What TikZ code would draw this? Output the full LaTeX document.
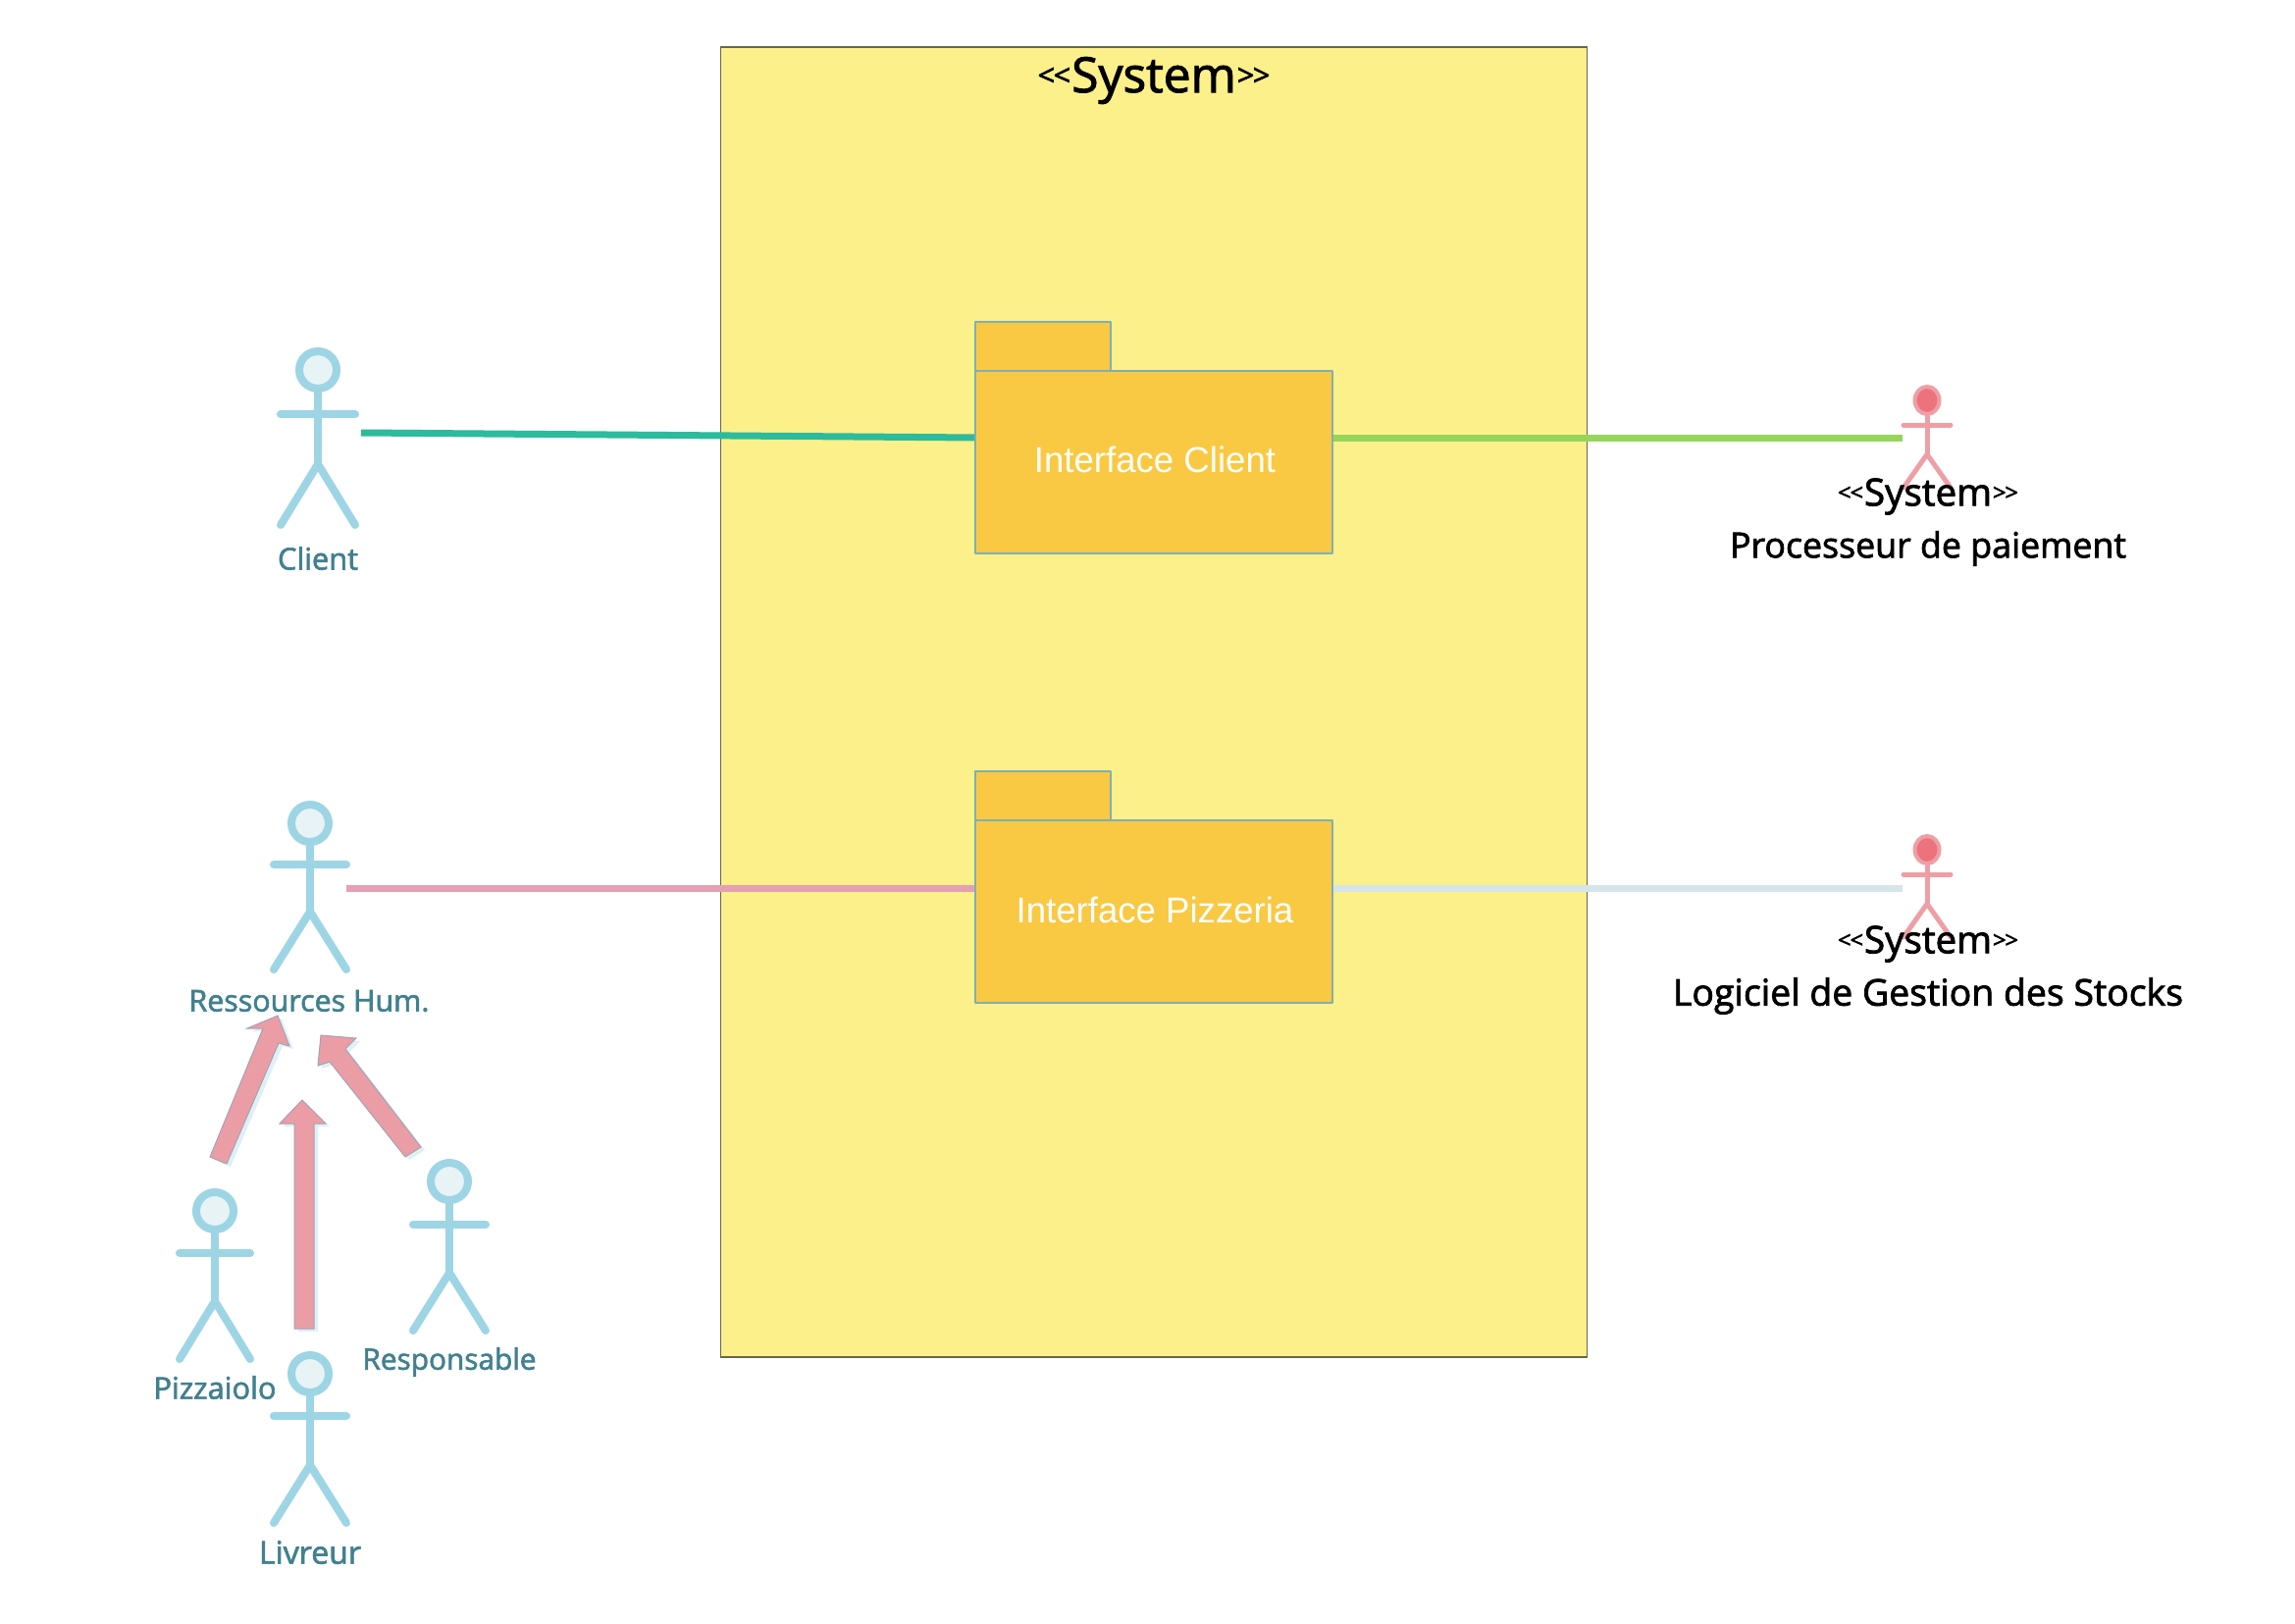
\documentclass[tikz,border=0pt]{standalone}
\usepackage{fontspec}
\usepackage{graphicx}
\setmainfont{Open Sans}[FakeBold=2]
\newfontfamily\arialfont{Liberation Sans}
\usetikzlibrary{shapes.geometric}
\definecolor{sysfill}{HTML}{FCF08A}
\definecolor{sysdraw}{HTML}{66664F}
\definecolor{foldfill}{HTML}{F9C943}
\definecolor{folddraw}{HTML}{7FB0B0}
\definecolor{actblue}{HTML}{9DD5E5}
\definecolor{headblue}{HTML}{E8F3F6}
\definecolor{actred}{HTML}{EE9FA5}
\definecolor{headred}{HTML}{EC727E}
\definecolor{labelteal}{HTML}{41808F}
\definecolor{lineteal}{HTML}{2CBB9C}
\definecolor{linegreen}{HTML}{97D45B}
\definecolor{linepink}{HTML}{E6A0B4}
\definecolor{linepale}{HTML}{D5E5EA}
\definecolor{arrfill}{HTML}{EA9DA5}
\definecolor{arrdraw}{HTML}{A9A0B4}
\definecolor{arrshadow}{HTML}{DDF0F6}
\tikzset{
  sysbox/.style={draw=sysdraw,fill=sysfill,line width=1.5pt},
  foldshape/.style={draw=folddraw,fill=foldfill,line width=1.8pt,line join=round},
  foldtext/.style={text=white,inner sep=0pt,font=\arialfont\fontsize{36.6}{40}\selectfont},
  linkline/.style={line width=7pt},
  bluelimb/.style={draw=actblue,line width=8pt,line cap=round},
  bluehead/.style={ellipse,draw=actblue,fill=headblue,line width=8pt,minimum width=38pt,minimum height=38pt,inner sep=0pt},
  redlimb/.style={draw=actred,line width=5pt,line cap=round},
  redhead/.style={ellipse,draw=actred,fill=headred,line width=4pt,minimum width=25pt,minimum height=28pt,inner sep=0pt},
  actlabel/.style={text=labelteal,inner sep=0pt,font=\fontsize{36}{40}\selectfont},
  syslabel/.style={text=black,inner sep=0pt,font=\fontsize{36}{40}\selectfont},
  inherit/.style={draw=arrdraw,fill=arrfill,line width=1pt,line join=miter},
  inheritshadow/.style={fill=arrshadow,draw=none},
}
% name, x, head y, arm y, crotch y, feet y, half width, limb style, head style
\newcommand{\stickman}[9]{%
  \node[#9] (#1) at (#2,#3) {};
  \coordinate (#1crotch) at (#2,#5);
  \draw[#8] (#1.south) -- (#1crotch);
  \draw[#8] ({#2-#7},#4) -- ({#2+#7},#4);
  \draw[#8,line join=round] ({#2-#7},#6) -- (#1crotch) -- ({#2+#7},#6);
}
\newcommand{\fw}[2]{\resizebox{#1pt}{!}{#2}}
\newcommand{\ltmark}{\raisebox{.13em}{\scalebox{.62}{<}}}
\newcommand{\gtmark}{\raisebox{.13em}{\scalebox{.62}{>}}}
\newcommand{\sysword}{\ltmark\kern-.03em\ltmark\kern.02em System\kern.02em\gtmark\kern-.03em\gtmark}
\begin{document}
\begin{tikzpicture}[x=1pt,y=-1pt]
\useasboundingbox (0,0) rectangle (2339,1654);
\fill[white] (0,0) rectangle (2339,1654);

% system frame
\node[sysbox,minimum width=883pt,minimum height=1335pt,inner sep=0pt] (system) at (1176,715.5) {};
\node[text=black,inner sep=0pt,font=\fontsize{44}{48}\selectfont] (systitle) at (1176,82) {\fw{237}{\sysword}};

% connector ends
\coordinate (clientend) at (368,441);
\coordinate (fcleft) at (996,446);
\coordinate (fcright) at (1356,446);
\coordinate (payend) at (1939,446);
\coordinate (rhend) at (353,905);
\coordinate (fpleft) at (996,905);
\coordinate (fpright) at (1356,905);
\coordinate (stockend) at (1939,905);

\draw[linkline,lineteal] (clientend) -- (fcleft);
\draw[linkline,linegreen] (fcright) -- (payend);
\draw[linkline,linepink] (rhend) -- (fpleft);
\draw[linkline,linepale] (fpright) -- (stockend);

% folders
\node[foldshape,minimum width=138pt,minimum height=50pt,inner sep=0pt] (fctab) at (1063,353) {};
\node[foldshape,minimum width=364pt,minimum height=186pt,inner sep=0pt] (fcbody) at (1176,471) {};
\node[foldtext] (fctext) at (1177,468) {Interface Client};
\node[foldshape,minimum width=138pt,minimum height=50pt,inner sep=0pt] (fptab) at (1063,811) {};
\node[foldshape,minimum width=364pt,minimum height=186pt,inner sep=0pt] (fpbody) at (1176,929) {};
\node[foldtext] (fptext) at (1177,927) {Interface Pizzeria};

% blue actors
\stickman{client}{324}{377}{422}{473}{535}{38}{bluelimb}{bluehead}
\node[actlabel] (clientlabel) at (324,569) {\fw{82}{Client}};
\stickman{rh}{316}{839}{881}{929}{988}{37}{bluelimb}{bluehead}
\node[actlabel] (rhlabel) at (315,1020) {\fw{245}{Ressources Hum.}};
\stickman{pizz}{219}{1234}{1277}{1326}{1385}{36}{bluelimb}{bluehead}
\node[actlabel] (pizzlabel) at (219,1414) {\fw{125}{Pizzaiolo}};
\stickman{resp}{458}{1204}{1248}{1297}{1356}{37}{bluelimb}{bluehead}
\node[actlabel] (resplabel) at (458,1388) {\fw{177}{Responsable}};
\stickman{livr}{316}{1400}{1443}{1493}{1552}{37}{bluelimb}{bluehead}
\node[actlabel] (livrlabel) at (316,1582) {\fw{104}{Livreur}};

% red actors
\stickman{pay}{1964}{408}{433}{463}{497}{24}{redlimb}{redhead}
\node[syslabel] (paylabel1) at (1965,506) {\fw{184}{\sysword}};
\node[syslabel] (paylabel2) at (1965,559) {\fw{404}{Processeur de paiement}};
\stickman{stock}{1964}{866}{891}{921}{955}{24}{redlimb}{redhead}
\node[syslabel] (stocklabel1) at (1965,962) {\fw{184}{\sysword}};
\node[syslabel] (stocklabel2) at (1965,1015) {\fw{520}{Logiciel de Gestion des Stocks}};

% inheritance block arrows: shadows
\begin{scope}[shift={(4,3)}]
\fill[inheritshadow] (214,1179) -- (268,1048) -- (252,1048) -- (283,1035) -- (295,1066) -- (284,1063) -- (231,1186) -- cycle;
\fill[inheritshadow] (300,1354) -- (300,1145) -- (285,1145) -- (308,1121) -- (332,1145) -- (320,1145) -- (320,1354) -- cycle;
\fill[inheritshadow] (429,1169) -- (352,1069) -- (363,1058) -- (327,1055) -- (324,1086) -- (336,1082) -- (413,1179) -- cycle;
\end{scope}
% inheritance block arrows
\draw[inherit] (214,1179) -- (268,1048) -- (252,1048) -- (283,1035) -- (295,1066) -- (284,1063) -- (231,1186) -- cycle;
\draw[inherit] (300,1354) -- (300,1145) -- (285,1145) -- (308,1121) -- (332,1145) -- (320,1145) -- (320,1354) -- cycle;
\draw[inherit] (429,1169) -- (352,1069) -- (363,1058) -- (327,1055) -- (324,1086) -- (336,1082) -- (413,1179) -- cycle;
\end{tikzpicture}
\end{document}
